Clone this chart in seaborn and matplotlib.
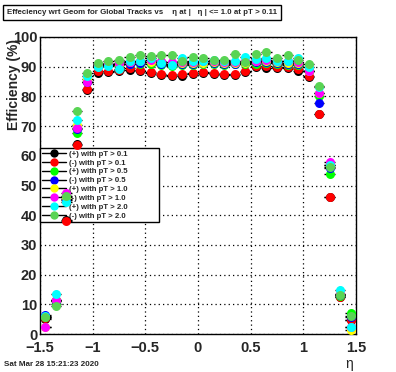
import numpy as np
import pandas as pd
import matplotlib
matplotlib.use("Agg")
import matplotlib.pyplot as plt
from matplotlib.lines import Line2D
import seaborn as sns

# ---------------- data ----------------
eta = [-1.45, -1.35, -1.25, -1.15, -1.05,
       -0.95, -0.85, -0.75, -0.65, -0.55, -0.45, -0.35, -0.25, -0.15, -0.05,
       0.05, 0.15, 0.25, 0.35, 0.45, 0.55, 0.65, 0.75, 0.85, 0.95,
       1.05, 1.15, 1.25, 1.35, 1.45]

pos_pt01 = [5.2, 11.5, 38.5, 64.0, 82.0,
            88.0, 88.3, 88.6, 89.0, 88.6, 87.8, 87.2, 86.9, 87.0, 87.6,
            87.8, 87.4, 87.2, 87.2, 88.2, 89.8, 89.7, 89.4, 89.4, 88.7,
            86.4, 74.0, 46.0, 12.4, 4.8]
neg_pt01 = [5.4, 11.2, 38.0, 63.6, 82.5,
            88.4, 88.7, 89.0, 89.4, 89.0, 88.2, 87.6, 87.3, 87.4, 88.0,
            88.2, 87.8, 87.6, 87.6, 88.6, 90.2, 90.1, 89.8, 89.8, 89.1,
            86.8, 74.2, 46.2, 12.6, 4.7]
pos_pt05 = [5.7, 10.0, 45.5, 67.8, 85.0,
            90.5, 91.0, 90.5, 90.8, 91.0, 91.0, 90.5, 90.3, 90.6, 90.7,
            90.9, 91.0, 90.7, 90.8, 90.8, 91.0, 91.3, 90.8, 90.7, 90.6,
            88.5, 80.0, 54.0, 12.8, 7.0]
neg_pt05 = [6.4, 11.0, 45.0, 68.9, 85.0,
            90.3, 90.6, 90.8, 91.0, 91.3, 91.5, 91.0, 90.8, 91.0, 91.0,
            91.1, 91.3, 91.0, 91.0, 91.2, 91.5, 91.5, 91.2, 91.0, 90.9,
            88.5, 77.7, 56.0, 13.0, 5.8]
pos_pt10 = [2.2, 11.5, 46.0, 70.4, 86.0,
            90.6, 90.8, 91.0, 91.5, 91.8, 91.5, 91.5, 91.0, 91.2, 91.2,
            91.4, 91.5, 91.2, 91.3, 91.4, 91.8, 92.0, 91.5, 91.4, 91.2,
            88.5, 81.0, 57.0, 13.5, 1.3]
neg_pt10 = [2.5, 11.5, 47.4, 69.5, 85.0,
            90.8, 91.0, 91.3, 91.6, 92.0, 92.2, 92.0, 91.5, 91.6, 91.5,
            91.8, 91.8, 91.5, 91.6, 91.9, 92.0, 92.4, 91.8, 91.9, 91.5,
            88.4, 81.2, 58.0, 13.5, 2.2]
pos_pt20 = [6.0, 13.5, 44.5, 72.0, 87.0,
            89.9, 90.1, 89.3, 91.8, 92.0, 93.0, 91.2, 90.7, 92.8, 91.8,
            91.8, 92.4, 92.0, 91.8, 93.4, 92.5, 93.0, 91.8, 91.8, 92.9,
            90.0, 83.3, 57.0, 14.8, 2.5]
neg_pt20 = [5.7, 9.5, 46.5, 75.0, 88.0,
            91.2, 91.8, 92.4, 93.2, 93.8, 93.5, 93.8, 93.8, 92.0, 93.2,
            92.9, 92.4, 92.4, 94.3, 91.5, 94.3, 94.9, 92.9, 94.0, 92.2,
            91.0, 83.6, 56.3, 13.1, 6.0]

y_err = [1.2, 1.2, 1.0, 0.8, 0.6,
         0.5, 0.5, 0.5, 0.5, 0.5, 0.5, 0.5, 0.5, 0.5, 0.5,
         0.5, 0.5, 0.5, 0.5, 0.5, 0.5, 0.5, 0.5, 0.5, 0.5,
         0.6, 0.8, 1.0, 1.2, 1.2]

series_labels = ["(+) with pT > 0.1", "(-) with pT > 0.1",
                 "(+) with pT > 0.5", "(-) with pT > 0.5",
                 "(+) with pT > 1.0", "(-) with pT > 1.0",
                 "(+) with pT > 2.0", "(-) with pT > 2.0"]
series_values = [pos_pt01, neg_pt01, pos_pt05, neg_pt05,
                 pos_pt10, neg_pt10, pos_pt20, neg_pt20]
series_colors = ["#000000", "#ff0000", "#00ff00", "#0000ff",
                 "#ffff00", "#ff00ff", "#00ffff", "#59d454"]

x_ticks = [-1.5, -1.0, -0.5, 0.0, 0.5, 1.0, 1.5]
x_ticklabels = ["\u22121.5", "\u22121", "\u22120.5", "0", "0.5", "1", "1.5"]
y_ticks = [0, 10, 20, 30, 40, 50, 60, 70, 80, 90, 100]
y_ticklabels = ["0", "10", "20", "30", "40", "50", "60", "70", "80", "90", "100"]

title_text = "Effeciency wrt Geom for Global Tracks vs    \u03b7 at |   \u03b7 | <= 1.0 at pT > 0.11"
date_text = "Sat Mar 28 15:21:23 2020"
y_title = "Efficiency (%)"
x_title = "\u03b7"

# ---------------- build table ----------------
frames = []
for lab, vals in zip(series_labels, series_values):
    frames.append(pd.DataFrame({"eta": eta, "eff": vals, "err": y_err, "series": lab}))
df = pd.concat(frames, ignore_index=True)

# ---------------- plot ----------------
sns.set_style("white")
plt.rcParams["font.family"] = ["Liberation Sans", "DejaVu Sans"]

W, H = 396, 372
fig = plt.figure(figsize=(W / 100, H / 100), dpi=100)
ax = fig.add_axes([40 / W, (H - 334) / H, 316 / W, 297 / H])

for i, (lab, col) in enumerate(zip(series_labels, series_colors)):
    sub = df[df["series"] == lab]
    ax.errorbar(sub["eta"], sub["eff"], xerr=0.05, yerr=sub["err"],
                fmt="none", ecolor="black", elinewidth=1.0, capsize=0,
                zorder=3 + 2 * i)
    sns.scatterplot(data=sub, x="eta", y="eff", color=col, s=42,
                    linewidth=0, marker="o", ax=ax, zorder=4 + 2 * i,
                    legend=False)

ax.set_xlim(-1.5, 1.5)
ax.set_ylim(0, 100)
ax.set_xticks(x_ticks)
ax.set_xticklabels(x_ticklabels, fontsize=10.5, fontweight="bold")
ax.set_yticks(y_ticks)
ax.set_yticklabels(y_ticklabels, fontsize=10.5, fontweight="bold")
ax.set_xticks(np.arange(-1.5, 1.51, 0.1), minor=True)
ax.set_yticks(np.arange(0, 100.1, 2), minor=True)
ax.tick_params(axis="both", which="major", direction="in", length=9,
               width=1, color="black", top=False, right=False)
ax.tick_params(axis="both", which="minor", direction="in", length=4.5,
               width=1, color="black", top=False, right=False)
ax.tick_params(axis="x", which="major", pad=5)
ax.tick_params(axis="y", which="major", pad=2)

ax.grid(True, which="major", color="black", linestyle=(0, (1, 2.5)), linewidth=0.9)
ax.set_axisbelow(True)
for sp in ax.spines.values():
    sp.set_color("black")
    sp.set_linewidth(1.0)
    sp.set_visible(True)

ax.set_xlabel("")
ax.set_ylabel("")
fig.text(14 / W, 1 - 85 / H, y_title, fontsize=10, fontweight="bold",
         rotation=90, ha="center", va="center")
fig.text(349 / W, 1 - 364 / H, x_title, fontsize=10, ha="center", va="center")

# legend (drawn beneath the data markers, as in the reference)
handles = [Line2D([0], [0], color="black", lw=1.0, marker="o", markersize=6,
                  markerfacecolor=c, markeredgewidth=0) for c in series_colors]
leg = ax.legend(handles, series_labels, loc="upper left",
                bbox_to_anchor=(0.0, 0.0, 119 / 316, (334 - 148) / 297),
                mode="expand",
                prop={"family": "Liberation Sans", "weight": "bold", "size": 5.6},
                frameon=True, fancybox=False, shadow=False, framealpha=1,
                edgecolor="black", borderpad=0.3, labelspacing=0.18,
                handlelength=3.0, handletextpad=0.4, borderaxespad=0,
                ncol=1)
leg.get_frame().set_linewidth(1.0)
leg.set_zorder(2.5)

# title box
fig.text(7 / W, 1 - 12.5 / H, title_text, fontsize=5.7, fontweight="bold",
         ha="left", va="center",
         bbox=dict(boxstyle="square,pad=0.55", facecolor="white",
                   edgecolor="black", linewidth=1.0))

fig.text(4 / W, 1 - 364 / H, date_text, fontsize=5.8, fontweight="bold",
         ha="left", va="center")

fig.savefig("out.png", dpi=100, facecolor="white")
